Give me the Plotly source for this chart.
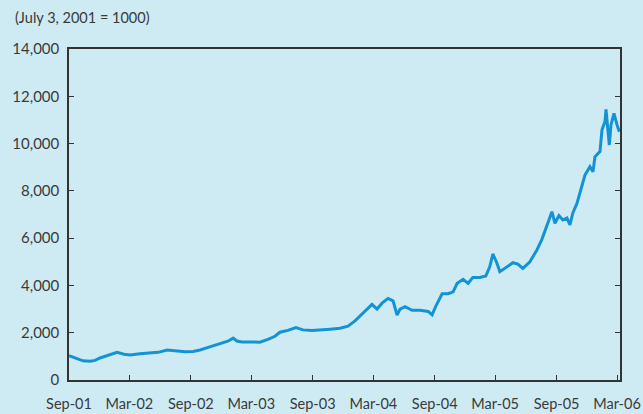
import plotly.graph_objects as go

dates = [
    "2001-09-01", "2001-09-13", "2001-09-28", "2001-10-13", "2001-11-03", "2001-11-18",
    "2001-12-03", "2001-12-27", "2002-01-23", "2002-02-13", "2002-03-03", "2002-04-02",
    "2002-05-02", "2002-05-26", "2002-06-22", "2002-07-16", "2002-08-15", "2002-09-08",
    "2002-09-29", "2002-10-23", "2002-11-13", "2002-12-04", "2002-12-21", "2003-01-06",
    "2003-01-17", "2003-02-01", "2003-02-25", "2003-03-27", "2003-04-20", "2003-05-11",
    "2003-05-26", "2003-06-19", "2003-07-13", "2003-08-03", "2003-08-30", "2003-09-23",
    "2003-10-23", "2003-11-22", "2003-12-16", "2004-01-06", "2004-01-27", "2004-02-14",
    "2004-02-26", "2004-03-12", "2004-03-27", "2004-04-14", "2004-04-29", "2004-05-11",
    "2004-05-20", "2004-06-04", "2004-06-25", "2004-07-19", "2004-08-12", "2004-08-24",
    "2004-09-05", "2004-09-23", "2004-10-11", "2004-10-26", "2004-11-07", "2004-11-25",
    "2004-12-10", "2004-12-24", "2005-01-14", "2005-02-01", "2005-02-13", "2005-02-22",
    "2005-03-06", "2005-03-15", "2005-03-30", "2005-04-23", "2005-05-08", "2005-05-23",
    "2005-06-13", "2005-07-04", "2005-07-19", "2005-08-03", "2005-08-18", "2005-08-27",
    "2005-09-08", "2005-09-20", "2005-10-02", "2005-10-11", "2005-10-20", "2005-11-01",
    "2005-11-16", "2005-11-25", "2005-12-10", "2005-12-19", "2005-12-25", "2006-01-09",
    "2006-01-15", "2006-01-24", "2006-01-27", "2006-01-31", "2006-02-06", "2006-02-11",
    "2006-02-20", "2006-03-01", "2006-03-08",
]
index_values = [
    1030, 960, 870, 810, 790, 830,
    930, 1030, 1170, 1090, 1060, 1110,
    1130, 1170, 1270, 1230, 1200, 1210,
    1270, 1380, 1470, 1560, 1640, 1770,
    1650, 1610, 1610, 1600, 1720, 1850,
    2020, 2100, 2220, 2120, 2090, 2130,
    2150, 2190, 2280, 2500, 2800, 3050,
    3200, 3000, 3250, 3450, 3350, 2750,
    3000, 3100, 2950, 2950, 2900, 2760,
    3150, 3650, 3650, 3730, 4090, 4260,
    4090, 4340, 4340, 4400, 4800, 5330,
    4950, 4580, 4720, 4960, 4900, 4720,
    5000, 5500, 5950, 6500, 7120, 6630,
    6950, 6770, 6850, 6560, 7080, 7470,
    8180, 8670, 9020, 8810, 9440, 9660,
    10580, 10930, 11450, 10860, 9940, 10790,
    11280, 10790, 10500,
]

x_ticks = ["2001-09-01", "2002-03-01", "2002-09-01", "2003-03-01", "2003-09-01",
           "2004-03-01", "2004-09-01", "2005-03-01", "2005-09-01", "2006-03-01"]
x_labels = ["Sep-01", "Mar-02", "Sep-02", "Mar-03", "Sep-03",
            "Mar-04", "Sep-04", "Mar-05", "Sep-05", "Mar-06"]
y_ticks = [0, 2000, 4000, 6000, 8000, 10000, 12000, 14000]
y_labels = ["0", "2,000", "4,000", "6,000", "8,000", "10,000", "12,000", "14,000"]

bg = "#ceebf3"

fig = go.Figure()
fig.add_trace(go.Scatter(
    x=dates,
    y=index_values,
    mode="lines",
    line=dict(color="#1393d6", width=3),
    showlegend=False,
))

fig.update_layout(
    width=643,
    height=414,
    margin=dict(l=69, r=23, t=49, b=34),
    paper_bgcolor=bg,
    plot_bgcolor=bg,
    font=dict(family="Lato, Arial, sans-serif", color="#3a3a3a", size=15),
    annotations=[dict(
        text="(July 3, 2001 = 1000)",
        xref="paper", yref="paper",
        x=-0.102, y=1.127,
        xanchor="left", yanchor="top",
        showarrow=False,
        font=dict(size=14.5),
    )],
)

fig.update_xaxes(
    range=["2001-09-01", "2006-03-10"],
    tickvals=x_ticks,
    ticktext=x_labels,
    tickfont=dict(size=14.5),
    ticks="inside",
    ticklen=5,
    tickcolor="#333",
    ticklabelstandoff=10,
    automargin=False,
    showline=True,
    linecolor="#333",
    linewidth=1.5,
    mirror=True,
    showgrid=False,
    zeroline=False,
)
fig.update_yaxes(
    range=[0, 14000],
    tickvals=y_ticks,
    ticktext=y_labels,
    ticks="inside",
    ticklen=5,
    tickcolor="#333",
    ticklabelstandoff=5,
    automargin=False,
    showline=True,
    linecolor="#333",
    linewidth=1.5,
    mirror="ticks",
    showgrid=False,
    zeroline=False,
)

# drop the default body margin so the 643x414 figure fills the window exactly
fig.write_html(
    "out.html",
    config={"displayModeBar": False},
    post_script="document.body.style.margin='0';document.body.style.overflow='hidden';",
)
